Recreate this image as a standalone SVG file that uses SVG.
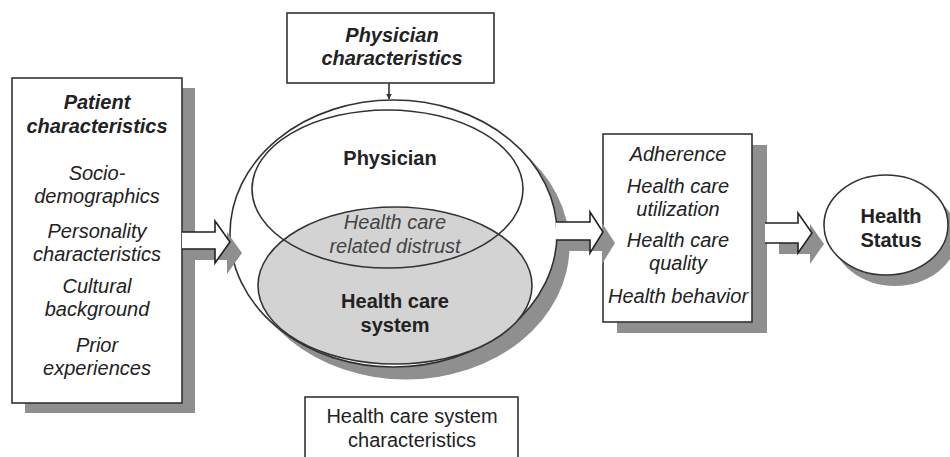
<svg xmlns="http://www.w3.org/2000/svg" width="950" height="457" viewBox="0 0 950 457">
<style>
.box{fill:#fff;stroke:#333;stroke-width:1.6}
.sh{fill:#8f8f8f;stroke:none}
.arr{fill:#fff;stroke:#222;stroke-width:1.6;stroke-linejoin:miter}
.ln{fill:none;stroke:#333;stroke-width:1.6}
text{font-family:"Liberation Sans",Arial,sans-serif;font-size:20px;fill:#222;text-anchor:middle}
.bi{font-weight:bold;font-style:italic}
.b{font-weight:bold}
.i{font-style:italic}
.g{fill:#444}
</style>
<defs>
<marker id="ah" viewBox="0 0 10 10" refX="9" refY="5" markerWidth="6" markerHeight="6" orient="auto" markerUnits="userSpaceOnUse">
<path d="M0,0 L10,5 L0,10 Z" fill="#333"/>
</marker>
</defs>

<g id="patient">
<rect class="sh" x="25" y="88" width="170" height="325"/>
<rect class="box" x="12" y="78" width="170" height="325"/>
<text class="bi" x="97" y="109">Patient</text>
<text class="bi" x="97" y="133">characteristics</text>
<text class="i" x="97" y="180">Socio-</text>
<text class="i" x="97" y="203">demographics</text>
<text class="i" x="97" y="238">Personality</text>
<text class="i" x="97" y="261">characteristics</text>
<text class="i" x="97" y="293">Cultural</text>
<text class="i" x="97" y="316">background</text>
<text class="i" x="97" y="352">Prior</text>
<text class="i" x="97" y="375">experiences</text>
</g>

<g id="physician-characteristics">
<rect class="box" x="287" y="13" width="207" height="70"/>
<text class="bi" x="392" y="42">Physician</text>
<text class="bi" x="392" y="65">characteristics</text>
</g>

<g id="distrust">
<ellipse class="sh" cx="406" cy="246" rx="163.5" ry="133.5"/>
<ellipse class="box" cx="393.5" cy="233.5" rx="163.5" ry="133.5"/>
<ellipse cx="395" cy="285.5" rx="137" ry="78.5" fill="#d3d3d3" stroke="#333" stroke-width="1.6"/>
<ellipse class="ln" cx="387.5" cy="189" rx="135.5" ry="79"/>
<text class="b" x="390" y="165">Physician</text>
<text class="i g" x="395" y="229">Health care</text>
<text class="i g" x="395" y="253">related distrust</text>
<text class="b" x="395" y="308">Health care</text>
<text class="b" x="395" y="332">system</text>
</g>

<g id="hcs-characteristics">
<rect class="box" x="305" y="397" width="213" height="70"/>
<text x="412" y="423">Health care system</text>
<text x="412" y="447">characteristics</text>
</g>

<g id="outcomes">
<rect class="sh" x="617" y="145" width="150" height="188"/>
<rect class="box" x="603" y="134" width="149" height="188"/>
<text class="i" x="678" y="161">Adherence</text>
<text class="i" x="678" y="193">Health care</text>
<text class="i" x="678" y="216">utilization</text>
<text class="i" x="678" y="247">Health care</text>
<text class="i" x="678" y="270">quality</text>
<text class="i" x="678" y="303">Health behavior</text>
</g>

<g id="health-status">
<ellipse class="sh" cx="895" cy="236" rx="62" ry="50"/>
<ellipse class="box" cx="886" cy="225" rx="62" ry="50"/>
<text class="b" x="891" y="223">Health</text>
<text class="b" x="891" y="247">Status</text>
</g>

<g id="connectors">
<line class="ln" x1="389" y1="83" x2="389" y2="99" marker-end="url(#ah)"/>
<path class="sh" d="M194,243 H227 V232 L242,253 L227,274 V260 H194 Z"/>
<path class="arr" d="M182,232 H215 V221 L230,242 L215,263 V249 H182"/>
<path class="sh" d="M568,233 H602 V223 L615,243 L602,264 V251 H568 Z"/>
<path class="arr" d="M556,222 H590 V212 L603,232 L590,253 V240 H556"/>
<path class="sh" d="M779,234 H810 V224 L824,244 L810,264 V254 H779 Z"/>
<path class="arr" d="M765,223 H798 V213 L812,233 L798,253 V243 H765"/>
</g>
</svg>
